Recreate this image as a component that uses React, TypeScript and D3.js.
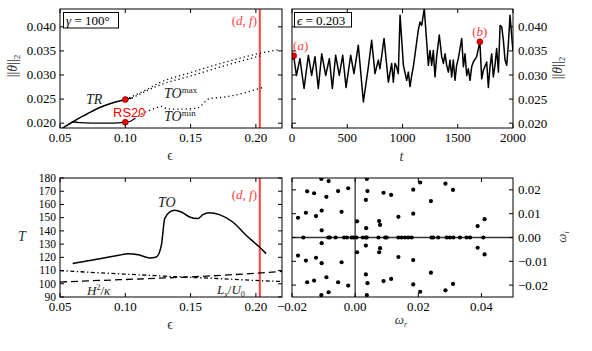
import React from "react";
import * as d3 from "d3";

// ---------- data ----------
// top left: bifurcation diagram, ||theta||_2 vs epsilon
const trEps = [0.0515, 0.055, 0.06, 0.065, 0.07, 0.08, 0.09, 0.1, 0.105];
const trTheta = [0.0189, 0.0195, 0.0203, 0.0211, 0.0218, 0.0232, 0.0242, 0.0249, 0.0252];
const rsEps = [0.059, 0.065, 0.075, 0.09, 0.1, 0.104, 0.107];
const rsTheta = [0.0203, 0.0201, 0.02, 0.02, 0.0202, 0.0204, 0.0209];
const toMaxAEps = [0.1, 0.115, 0.1263, 0.15, 0.177, 0.203, 0.218];
const toMaxATheta = [0.0249, 0.0268, 0.0284, 0.0305, 0.0327, 0.0345, 0.0353];
const toMaxBEps = [0.105, 0.1263, 0.15, 0.177, 0.205];
const toMaxBTheta = [0.0252, 0.0279, 0.0298, 0.032, 0.0341];
const toMinEps = [0.107, 0.112, 0.118, 0.124, 0.1276, 0.132, 0.14, 0.15, 0.1556, 0.1645, 0.175, 0.19, 0.2027, 0.2065];
const toMinTheta = [0.0209, 0.0218, 0.0226, 0.0232, 0.0235, 0.023, 0.0229, 0.023, 0.0232, 0.0251, 0.0254, 0.0262, 0.0272, 0.0275];
const markEps = [0.1, 0.1];
const markTheta = [0.0249, 0.0202];
const epsCut = 0.203;

// top right: time series at eps = 0.203
const tsT = [0, 15, 40, 72, 109, 148, 178, 208, 238, 269, 305, 338, 365, 395, 428, 459, 489, 531, 561, 600, 646, 691, 721, 751, 781, 796, 833, 872, 902, 917, 932, 947, 962, 978, 1008, 1038, 1053, 1068, 1083, 1098, 1143, 1159, 1174, 1197, 1210, 1234, 1249, 1264, 1279, 1294, 1309, 1333, 1355, 1370, 1385, 1400, 1415, 1430, 1445, 1460, 1475, 1490, 1505, 1536, 1551, 1566, 1581, 1596, 1611, 1626, 1641, 1671, 1700, 1717, 1732, 1762, 1777, 1792, 1807, 1822, 1837, 1852, 1868, 1883, 1898, 1913, 1928, 1943, 1958, 1973, 1994, 2000];
const tsTheta = [0.0332, 0.034, 0.0299, 0.0334, 0.0272, 0.0341, 0.0299, 0.0338, 0.0272, 0.0344, 0.0299, 0.0334, 0.0272, 0.0341, 0.0299, 0.0341, 0.0274, 0.0341, 0.0303, 0.0362, 0.0244, 0.0317, 0.0372, 0.0303, 0.0331, 0.0313, 0.0376, 0.0285, 0.0324, 0.0285, 0.0324, 0.0317, 0.0303, 0.0424, 0.032, 0.0289, 0.0306, 0.0276, 0.0299, 0.0317, 0.0393, 0.041, 0.0403, 0.0438, 0.0397, 0.032, 0.0351, 0.032, 0.0351, 0.0296, 0.0338, 0.0383, 0.0338, 0.0324, 0.0344, 0.032, 0.0306, 0.0331, 0.0296, 0.0331, 0.0289, 0.032, 0.0334, 0.0376, 0.0317, 0.0344, 0.0299, 0.0313, 0.0289, 0.0317, 0.0327, 0.0338, 0.0369, 0.0292, 0.031, 0.0327, 0.0274, 0.0317, 0.0344, 0.0296, 0.032, 0.0355, 0.0306, 0.0403, 0.04, 0.0372, 0.0331, 0.032, 0.0365, 0.0424, 0.0365, 0.035];
const snapT = [15, 1700];
const snapTheta = [0.034, 0.0369];
const snapLabels = ["a", "b"];

// bottom left: periods vs epsilon
const toEps = [0.0597, 0.0805, 0.095, 0.1021, 0.11, 0.1187, 0.1238, 0.1276, 0.1302, 0.134, 0.1378, 0.1429, 0.1492, 0.1556, 0.1594, 0.1645, 0.1721, 0.1823, 0.1925, 0.2027, 0.2078];
const toPeriod = [115.3, 119, 121.5, 122.8, 122, 119.5, 120.3, 129, 149.3, 154.3, 155.6, 154.3, 150.5, 149.3, 152.3, 153.8, 152.3, 146.7, 136.7, 127.8, 122.8];
const refEps = [0.05, 0.08, 0.11, 0.14, 0.17, 0.2, 0.22];
const advPeriod = [110, 108.3, 106.8, 105.3, 104, 102.5, 101.7]; // L_x/U_0
const diffPeriod = [101.3, 102.5, 103.6, 104.8, 106.2, 108, 109.4]; // H^2/kappa

// bottom right: eigenvalue spectrum
const eigR = [
  -0.0107, -0.0084, -0.0152, -0.013, -0.0091, -0.0054, -0.0022, -0.0181, -0.0156, -0.0124, -0.0106, -0.0043, -0.0106,
  0.0037, 0.0039, 0.0034, 0.0006, 0.0035, 0.0076, 0.0079, 0.009, 0.0114, 0.0137, 0.0184, 0.0184, 0.0206, 0.024, 0.0286, 0.031, 0.0388, 0.041,
  -0.0181, -0.0156, -0.0124, -0.0106, -0.0043, -0.0106, -0.0152, -0.013, -0.0091, -0.0054, -0.0022, -0.0107, -0.0084,
  0.0006, 0.0034, 0.0076, 0.0079, 0.0039, 0.0034, 0.0037, 0.0137, 0.009, 0.0114, 0.0184, 0.0184, 0.024, 0.0206, 0.0286, 0.031, 0.0388, 0.041,
  -0.0164, -0.0085, -0.008, -0.0062, -0.0035, -0.0026, -0.0011, -0.0005, 0.0004, 0.0024, 0.0033, 0.0037, 0.0074, 0.0095, 0.01,
  0.0137, 0.0147, 0.0158, 0.0168, 0.0179, 0.0242, 0.0247, 0.0263, 0.029, 0.03, 0.0311, 0.0332, 0.0353, 0.0364, 0.0406,
];
const eigI = [
  0.0246, 0.0237, 0.0194, 0.0186, 0.0171, 0.0195, 0.0207, 0.0083, 0.0104, 0.009, 0.0113, 0.0108, 0.003,
  0.0246, 0.0195, 0.0158, 0.0068, 0.0039, 0.0069, 0.0053, 0.0188, 0.0179, 0.0087, 0.0201, 0.01, 0.0231, 0.0153, 0.0226, 0.02, 0.0048, 0.0077,
  -0.0076, -0.0097, -0.0085, -0.0108, -0.0104, -0.0024, -0.0188, -0.0181, -0.0167, -0.0188, -0.0202, -0.0242, -0.023,
  -0.0062, -0.0034, -0.0062, -0.0045, -0.0192, -0.0155, -0.0242, -0.0082, -0.0183, -0.0174, -0.0095, -0.0197, -0.0148, -0.0228, -0.0222, -0.0195, -0.0043, -0.0071,
  0, 0, 0, 0, 0, 0, 0, 0, 0, 0, 0, 0, 0, 0, 0,
  0, 0, 0, 0, 0, 0, 0, 0, 0, 0, 0, 0, 0, 0, 0,
];

// ---------- layout ----------
const W = 592;
const H = 351;
const SERIF = "'Liberation Serif', 'Times New Roman', 'DejaVu Serif', serif";
const SANS = "'Liberation Sans', Arial, sans-serif";
const RED = "#ff4040";

type Box = { l: number; r: number; t: number; b: number };
const boxTL: Box = { l: 60, r: 282, t: 9, b: 128 };
const boxTR: Box = { l: 292, r: 513, t: 9, b: 128 };
const boxBL: Box = { l: 60, r: 282, t: 178, b: 297 };
const boxBR: Box = { l: 292, r: 513, t: 178, b: 297 };

const xEpsTop = d3.scaleLinear().domain([0.05, 0.22]).range([boxTL.l, boxTL.r]);
const yTheta = d3.scaleLinear().domain([0.019, 0.0437]).range([boxTL.b, boxTL.t]);
const xTime = d3.scaleLinear().domain([0, 2000]).range([boxTR.l, boxTR.r]);
const yThetaR = d3.scaleLinear().domain([0.019, 0.0437]).range([boxTR.b, boxTR.t]);
const xEpsBot = d3.scaleLinear().domain([0.05, 0.22]).range([boxBL.l, boxBL.r]);
const yPeriod = d3.scaleLinear().domain([90, 180]).range([boxBL.b, boxBL.t]);
const xOmR = d3.scaleLinear().domain([-0.02, 0.05]).range([boxBR.l, boxBR.r]);
const yOmI = d3.scaleLinear().domain([-0.025, 0.025]).range([boxBR.b, boxBR.t]);

const zip = (a: number[], b: number[]) => a.map((v, i) => [v, b[i]] as [number, number]);

function Frame(props: {
  box: Box;
  x: d3.ScaleLinear<number, number>;
  y: d3.ScaleLinear<number, number>;
  xTicks: number[];
  yTicks: number[];
  xFmt: (v: number) => string;
  yFmt: (v: number) => string;
  yRight?: boolean;
  ySize?: number;
}) {
  const { box, x, y, xTicks, yTicks, xFmt, yFmt, yRight } = props;
  const ySize = props.ySize || 13;
  const tl = 4;
  return (
    <g fontFamily={SERIF} fontSize={13} fill="#000">
      {xTicks.map((v, i) => {
        const px = x(v);
        return (
          <g key={"x" + i}>
            <line x1={px} x2={px} y1={box.b} y2={box.b - tl} stroke="#000" />
            <line x1={px} x2={px} y1={box.t} y2={box.t + tl} stroke="#000" />
            <text x={px} y={box.b + 14} textAnchor="middle">{xFmt(v)}</text>
          </g>
        );
      })}
      {yTicks.map((v, i) => {
        const py = y(v);
        return (
          <g key={"y" + i}>
            <line x1={box.l} x2={box.l + tl} y1={py} y2={py} stroke="#000" />
            <line x1={box.r} x2={box.r - tl} y1={py} y2={py} stroke="#000" />
            {yRight ? (
              <text x={box.r + 5} y={py + 4.5} textAnchor="start" fontSize={ySize}>{yFmt(v)}</text>
            ) : (
              <text x={box.l - 4} y={py + ySize * 0.33} textAnchor="end" fontSize={ySize}>{yFmt(v)}</text>
            )}
          </g>
        );
      })}
      <rect x={box.l} y={box.t} width={box.r - box.l} height={box.b - box.t} fill="none" stroke="#000" strokeWidth={1} />
    </g>
  );
}

function ClipDef({ id, box }: { id: string; box: Box }) {
  return (
    <clipPath id={id}>
      <rect x={box.l} y={box.t} width={box.r - box.l} height={box.b - box.t} />
    </clipPath>
  );
}

function ThetaLabel({ x, y }: { x: number; y: number }) {
  return (
    <text transform={`translate(${x},${y}) rotate(-90)`} textAnchor="middle" fontFamily={SERIF} fontSize={14} fill="#333">
      ||<tspan fontStyle="italic">θ</tspan>||<tspan fontSize={9} dy={3}>2</tspan>
    </text>
  );
}

export default function App() {
  const lineTL = d3.line<[number, number]>().x((d) => xEpsTop(d[0])).y((d) => yTheta(d[1])).curve(d3.curveMonotoneX);
  const lineTR = d3.line<[number, number]>().x((d) => xTime(d[0])).y((d) => yThetaR(d[1]));
  const lineBL = d3.line<[number, number]>().x((d) => xEpsBot(d[0])).y((d) => yPeriod(d[1])).curve(d3.curveMonotoneX);

  const f3 = d3.format(".3f");
  const f2 = d3.format(".2f");
  const fd = d3.format("d");
  const dots = "1.2,3";

  return (
    <svg width={W} height={H} style={{ position: "absolute", left: 0, top: 0, background: "#fff" }}>
      <defs>
        <ClipDef id="cTL" box={boxTL} />
        <ClipDef id="cTR" box={boxTR} />
        <ClipDef id="cBL" box={boxBL} />
        <ClipDef id="cBR" box={boxBR} />
      </defs>

      {/* ---------- top left ---------- */}
      <g clipPath="url(#cTL)">
        <line x1={xEpsTop(epsCut)} x2={xEpsTop(epsCut)} y1={boxTL.t} y2={boxTL.b} stroke={RED} strokeWidth={2} />
        <path d={lineTL(zip(trEps, trTheta)) || ""} fill="none" stroke="#000" strokeWidth={1.5} />
        <path d={lineTL(zip(rsEps, rsTheta)) || ""} fill="none" stroke="#000" strokeWidth={1.3} />
        <path d={lineTL(zip(toMaxAEps, toMaxATheta)) || ""} fill="none" stroke="#000" strokeWidth={1.3} strokeDasharray={dots} />
        <path d={lineTL(zip(toMaxBEps, toMaxBTheta)) || ""} fill="none" stroke="#000" strokeWidth={1.3} strokeDasharray={dots} />
        <path d={lineTL(zip(toMinEps, toMinTheta)) || ""} fill="none" stroke="#000" strokeWidth={1.3} strokeDasharray={dots} />
        {markEps.map((e, i) => (
          <circle key={i} cx={xEpsTop(e)} cy={yTheta(markTheta[i])} r={3} fill="#e00" stroke="#700" strokeWidth={0.6} />
        ))}
      </g>
      <Frame box={boxTL} x={xEpsTop} y={yTheta} xTicks={[0.05, 0.1, 0.15, 0.2]} yTicks={[0.02, 0.025, 0.03, 0.035, 0.04]} xFmt={f2} yFmt={f3} />
      <g fontFamily={SERIF}>
        <rect x={63.5} y={12.5} width={55} height={15.5} fill="#fff" stroke="#000" strokeWidth={1} />
        <text x={66} y={25} fontSize={13}><tspan fontStyle="italic">γ</tspan> = 100°</text>
        <text x={257} y={25} fontSize={13} fill={RED} textAnchor="end">(<tspan fontStyle="italic">d</tspan>, <tspan fontStyle="italic">f</tspan>)</text>
        <text x={86} y={104} fontSize={14} fontStyle="italic" fill="#222">TR</text>
        <text x={113} y={117} fontSize={13} fontFamily={SANS} fill="#f00">RS20</text>
        <text x={164} y={98} fontSize={14} fill="#222"><tspan fontStyle="italic">TO</tspan><tspan fontSize={9} dy={-5}>max</tspan></text>
        <text x={164} y={121} fontSize={14} fill="#222"><tspan fontStyle="italic">TO</tspan><tspan fontSize={9} dy={-5}>min</tspan></text>
        <text x={170} y={160} fontSize={14} textAnchor="middle" fill="#333">ϵ</text>
      </g>
      <ThetaLabel x={17} y={66} />

      {/* ---------- top right ---------- */}
      <g clipPath="url(#cTR)">
        <path d={lineTR(zip(tsT, tsTheta)) || ""} fill="none" stroke="#000" strokeWidth={1.5} strokeLinejoin="round" />
        {snapT.map((t, i) => (
          <circle key={i} cx={xTime(t)} cy={yThetaR(snapTheta[i])} r={3} fill="#e00" stroke="#700" strokeWidth={0.6} />
        ))}
      </g>
      <Frame box={boxTR} x={xTime} y={yThetaR} xTicks={[0, 500, 1000, 1500, 2000]} yTicks={[0.02, 0.025, 0.03, 0.035, 0.04]} xFmt={fd} yFmt={f3} yRight />
      <g fontFamily={SERIF}>
        <rect x={294.5} y={12.5} width={57} height={14.5} fill="#fff" stroke="#000" strokeWidth={1} />
        <text x={297} y={24.5} fontSize={13}><tspan fontStyle="italic">ϵ</tspan> = 0.203</text>
        {snapT.map((t, i) => (
          <text key={i} x={xTime(t) + (i === 0 ? 7 : 0)} y={yThetaR(snapTheta[i]) - 6} fontSize={13} fill={RED} textAnchor="middle">
            (<tspan fontStyle="italic">{snapLabels[i]}</tspan>)
          </text>
        ))}
        <text x={401.5} y={161} fontSize={14} fontStyle="italic" textAnchor="middle" fill="#333">t</text>
      </g>
      <ThetaLabel x={562} y={68} />

      {/* ---------- bottom left ---------- */}
      <g clipPath="url(#cBL)">
        <line x1={xEpsBot(epsCut)} x2={xEpsBot(epsCut)} y1={boxBL.t} y2={boxBL.b} stroke={RED} strokeWidth={2} />
        <path d={lineBL(zip(toEps, toPeriod)) || ""} fill="none" stroke="#000" strokeWidth={1.5} />
        <path d={lineBL(zip(refEps, advPeriod)) || ""} fill="none" stroke="#000" strokeWidth={1.3} strokeDasharray="4,2.5,1.3,2.5" />
        <path d={lineBL(zip(refEps, diffPeriod)) || ""} fill="none" stroke="#000" strokeWidth={1.3} strokeDasharray="7,4" />
      </g>
      <Frame box={boxBL} x={xEpsBot} y={yPeriod} xTicks={[0.05, 0.1, 0.15, 0.2]} yTicks={d3.range(90, 181, 10)} xFmt={f2} yFmt={fd} ySize={11.5} />
      <g fontFamily={SERIF}>
        <text x={158} y={207} fontSize={14} fontStyle="italic" fill="#222">TO</text>
        <text x={257} y={199} fontSize={13} fill={RED} textAnchor="end">(<tspan fontStyle="italic">d</tspan>, <tspan fontStyle="italic">f</tspan>)</text>
        <text x={87} y={295} fontSize={13} fill="#222"><tspan fontStyle="italic">H</tspan><tspan fontSize={8} dy={-5}>2</tspan><tspan dy={5}>/</tspan><tspan fontStyle="italic">κ</tspan></text>
        <text x={217} y={294} fontSize={13} fill="#222"><tspan fontStyle="italic">L</tspan><tspan fontSize={8} fontStyle="italic" dy={3}>x</tspan><tspan dy={-3}>/</tspan><tspan fontStyle="italic">U</tspan><tspan fontSize={8} dy={3}>0</tspan></text>
        <text x={170} y={329} fontSize={14} textAnchor="middle" fill="#333">ϵ</text>
        <text x={22} y={241} fontSize={14} fontStyle="italic" textAnchor="middle" fill="#333">T</text>
      </g>

      {/* ---------- bottom right ---------- */}
      <g clipPath="url(#cBR)">
        <line x1={boxBR.l} x2={boxBR.r} y1={yOmI(0)} y2={yOmI(0)} stroke="#333" strokeWidth={1.3} />
        <line x1={xOmR(0)} x2={xOmR(0)} y1={boxBR.t} y2={boxBR.b} stroke="#333" strokeWidth={1.3} />
        {eigR.map((r, i) => (
          <circle key={i} cx={xOmR(r)} cy={yOmI(eigI[i])} r={2.1} fill="#000" />
        ))}
      </g>
      <Frame box={boxBR} x={xOmR} y={yOmI} xTicks={[-0.02, 0, 0.02, 0.04]} yTicks={[-0.02, -0.01, 0, 0.01, 0.02]} xFmt={f2} yFmt={f2} yRight />
      <g fontFamily={SERIF} fill="#333">
        <text x={401} y={324} fontSize={13} textAnchor="middle"><tspan fontStyle="italic">ω</tspan><tspan fontSize={8} fontStyle="italic" dy={3}>r</tspan></text>
        <text transform={`translate(566,237) rotate(-90)`} fontSize={13} textAnchor="middle"><tspan fontStyle="italic">ω</tspan><tspan fontSize={8} fontStyle="italic" dy={3}>i</tspan></text>
      </g>
    </svg>
  );
}
